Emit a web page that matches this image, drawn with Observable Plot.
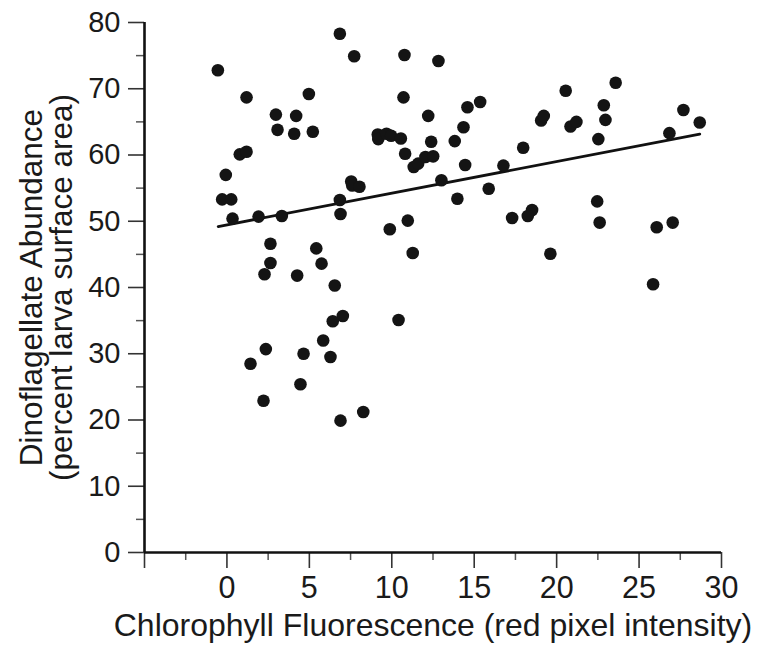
<!DOCTYPE html>
<html>
<head>
<meta charset="utf-8">
<script src="https://cdn.jsdelivr.net/npm/d3@7"></script>
<script src="https://cdn.jsdelivr.net/npm/@observablehq/plot@0.6"></script>
<style>
  html, body { margin: 0; padding: 0; background: #fff; }
  #chart { width: 759px; height: 645px; }
</style>
</head>
<body>
<div id="chart"></div>
<script>
// Chlorophyll fluorescence (red pixel intensity)
const fluorescence = [
  -0.55, 6.85, 1.19, 4.97, 2.97, 4.20, 3.07, 4.08, 5.21, 0.78,
  1.19, -0.07, -0.29, 0.26, 6.85, 7.72, 10.77, 12.83, 10.71, 12.21,
  14.59, 15.36, 14.35, 13.82, 12.39, 9.15, 9.18, 9.68, 9.96, 10.55,
  10.81, 11.33, 11.60, 12.04, 12.51, 14.45, 16.77, 17.97, 7.54, 7.60,
  8.04, 13.01, 13.98, 15.88, 20.55, 23.58, 22.86, 22.96, 22.53, 19.06,
  19.22, 20.84, 21.20, 27.69, 28.68, 26.84, 22.46, 18.51, 18.25, 22.61,
  26.07, 27.04, 19.62, 25.85, 6.89, 9.88, 10.97, 11.27, 17.30, 6.54,
  7.03, 6.42, 10.41, 6.28, 8.27, 6.89, 0.34, 1.92, 3.33, 2.64,
  2.64, 2.28, 4.26, 5.42, 5.74, 5.84, 2.36, 4.65, 1.43, 4.46,
  2.22
];
// Dinoflagellate abundance (percent larva surface area)
const abundance = [
  72.8, 78.3, 68.7, 69.2, 66.1, 65.9, 63.8, 63.2, 63.5, 60.1,
  60.5, 57.0, 53.3, 53.3, 53.2, 74.9, 75.1, 74.2, 68.7, 65.9,
  67.2, 68.0, 64.2, 62.1, 62.0, 63.1, 62.4, 63.2, 62.9, 62.5,
  60.2, 58.2, 58.7, 59.7, 59.8, 58.5, 58.4, 61.1, 56.0, 55.4,
  55.2, 56.2, 53.4, 54.9, 69.7, 70.9, 67.5, 65.3, 62.4, 65.2,
  65.9, 64.3, 65.0, 66.8, 64.9, 63.3, 53.0, 51.7, 50.8, 49.8,
  49.1, 49.8, 45.1, 40.5, 51.1, 48.8, 50.1, 45.2, 50.5, 40.3,
  35.7, 34.9, 35.1, 29.5, 21.2, 19.9, 50.4, 50.7, 50.8, 46.6,
  43.7, 42.0, 41.8, 45.9, 43.6, 32.0, 30.7, 30.0, 28.5, 25.4,
  22.9
];
// Fitted trend line end points
const fitX = [-0.53, 28.68];
const fitY = [49.2, 63.15];

// Tick values and labels
const xMajorTicks = [-5, 0, 5, 10, 15, 20, 25, 30];
const xMinorTicks = [-2.5, 2.5, 7.5, 12.5, 17.5, 22.5, 27.5];
const yMajorTicks = [0, 10, 20, 30, 40, 50, 60, 70, 80];
const yMinorTicks = [5, 15, 25, 35, 45, 55, 65, 75];
const xTitle = "Chlorophyll Fluorescence (red pixel intensity)";
const yTitle1 = "Dinoflagellate Abundance";
const yTitle2 = "(percent larva surface area)";

const points = fluorescence.map((x, i) => ({x, y: abundance[i]}));
const fit = fitX.map((x, i) => ({x, y: fitY[i]}));

const chart = Plot.plot({
  width: 759,
  height: 645,
  marginLeft: 144,
  marginRight: 38,
  marginTop: 22,
  marginBottom: 93,
  style: {fontFamily: "'Liberation Sans', Arial, sans-serif", color: "#1a1a1a", background: "#fff"},
  x: {domain: [-5, 30]},
  y: {domain: [0, 80]},
  marks: [
    Plot.axisX(xMinorTicks, {tickSize: 8, tickFormat: () => "", label: null, stroke: "#555", strokeWidth: 1.5}),
    Plot.axisX(xMajorTicks, {tickSize: 16, tickPadding: 8, tickFormat: d => d < 0 ? "" : String(d), label: null, fontSize: 30.5, stroke: "#333", strokeWidth: 1.6}),
    Plot.axisY(yMinorTicks, {tickSize: 8, tickFormat: () => "", label: null, stroke: "#555", strokeWidth: 1.5}),
    Plot.axisY(yMajorTicks, {tickSize: 16, tickPadding: 8, label: null, fontSize: 29, stroke: "#333", strokeWidth: 1.6}),
    Plot.ruleY([0], {x1: -5, x2: 30, stroke: "#111", strokeWidth: 2.6}),
    Plot.ruleX([-5], {y1: 0, y2: 80, stroke: "#111", strokeWidth: 2.6}),
    Plot.line(fit, {x: "x", y: "y", stroke: "#111", strokeWidth: 2.8}),
    Plot.dot(points, {x: "x", y: "y", r: 6.3, fill: "#141414", stroke: "none"}),
    Plot.text([xTitle], {frameAnchor: "bottom", dy: 73, fontSize: 32, textAnchor: "middle", lineAnchor: "middle", fill: "#1a1a1a"}),
    Plot.text([yTitle1], {frameAnchor: "left", dx: -113, rotate: -90, fontSize: 31.5, textAnchor: "middle", lineAnchor: "middle", fill: "#1a1a1a"}),
    Plot.text([yTitle2], {frameAnchor: "left", dx: -83, rotate: -90, fontSize: 31.5, textAnchor: "middle", lineAnchor: "middle", fill: "#1a1a1a"})
  ]
});
document.getElementById("chart").appendChild(chart);
</script>
</body>
</html>
